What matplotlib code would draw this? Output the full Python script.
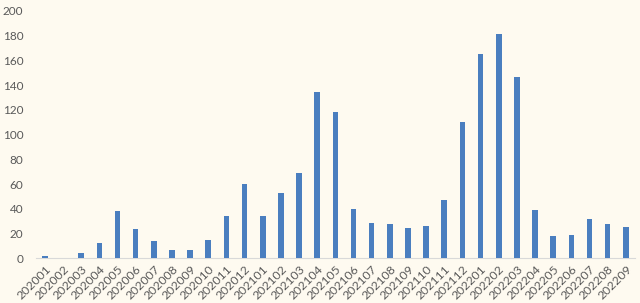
import matplotlib
matplotlib.use("Agg")
import matplotlib.pyplot as plt

plt.rcParams["font.family"] = ["Lato", "DejaVu Sans"]

months = ["202001","202002","202003","202004","202005","202006","202007","202008","202009","202010",
          "202011","202012","202101","202102","202103","202104","202105","202106","202107","202108",
          "202109","202110","202111","202112","202201","202202","202203","202204","202205","202206",
          "202207","202208","202209"]
values = [2, 0.5, 4, 12, 38, 24, 14, 6.5, 6.5, 15,
          34.5, 60, 34.5, 53, 69, 134.5, 118, 40, 28.5, 27.5,
          24.5, 26, 47.5, 110, 165.5, 181, 146.5, 39, 18, 18.5,
          31.5, 27.5, 25.5]

bg = "#fefaf0"
fig = plt.figure(figsize=(6.4, 3.03), dpi=100, facecolor=bg)
ax = fig.add_axes([0.056, 0.1475, 0.936, 0.8162], facecolor=bg)
x = list(range(len(months)))
ax.bar(x, values, width=0.31, color="#4a7ebf", zorder=3)
ax.set_xlim(-0.5, len(months) - 0.5)
ax.set_ylim(0, 200)
ax.set_yticks(range(0, 201, 20))
ax.set_xticks(x)
ax.set_xticklabels(months, rotation=45, ha="right", rotation_mode="anchor",
                   fontsize=8.8, color="#595959")
for s in ["top", "right", "left"]:
    ax.spines[s].set_visible(False)
ax.spines["bottom"].set_color("#d9d9d9")
ax.tick_params(axis="y", length=0, labelsize=8.5, labelcolor="#595959", pad=9)
ax.tick_params(axis="x", length=0, pad=4)
fig.savefig("out.png", dpi=100, facecolor=bg)
